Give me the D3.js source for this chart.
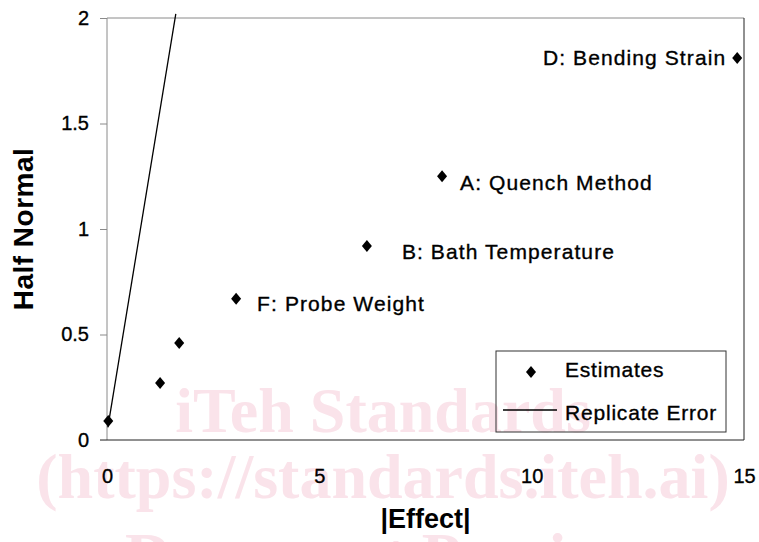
<!DOCTYPE html>
<html>
<head>
<meta charset="utf-8">
<script src="https://cdn.jsdelivr.net/npm/d3@7"></script>
<style>
  body { margin: 0; background: #fff; }
  text { font-family: "Liberation Sans", Arial, sans-serif; }
  .ink { stroke: #000; stroke-width: 0.35px; }
</style>
</head>
<body>
<div id="chart"></div>
<script>
// half normal plot of effects
const effects = [0.03, 1.25, 1.7, 3.04, 6.12, 7.89, 14.84];
const halfNormal = [0.09, 0.27, 0.46, 0.67, 0.92, 1.25, 1.81];
const labels = ["", "", "", "F: Probe Weight", "B: Bath Temperature", "A: Quench Method", "D: Bending Strain"];
const replicateX = [0.02, 1.62];
const replicateY = [0.06, 2.02];
const xTicks = [0, 5, 10, 15];
const yTicks = [0, 0.5, 1, 1.5, 2];
const watermark = ["iTeh Standards", "(https://standards.iteh.ai)", "Document Preview"];

(function () {
  const width = 759, height = 542;
  const left = 107, right = 744, top = 18, bottom = 440;

  const svg = d3.select("#chart")
    .append("svg")
    .attr("width", width)
    .attr("height", height);

  const x = d3.scaleLinear().domain([0, 15]).range([left, right]);
  const y = d3.scaleLinear().domain([0, 2]).range([bottom, top]);

  // watermark sits behind everything
  const wmY = [432, 498, 577];
  svg.append("g")
    .selectAll("text")
    .data(watermark)
    .enter()
    .append("text")
    .attr("x", 383)
    .attr("y", (d, i) => wmY[i])
    .attr("text-anchor", "middle")
    .style("font-family", "'Liberation Serif', 'Times New Roman', serif")
    .style("font-weight", "bold")
    .style("font-size", "64px")
    .attr("fill", "#fae3ea")
    .text(d => d);

  // plot frame
  svg.append("line").attr("x1", left).attr("x2", right).attr("y1", top).attr("y2", top)
    .attr("stroke", "#8a8a8a");
  svg.append("line").attr("x1", left).attr("x2", left).attr("y1", top).attr("y2", bottom)
    .attr("stroke", "#8a8a8a");
  svg.append("line").attr("x1", right).attr("x2", right).attr("y1", top).attr("y2", bottom)
    .attr("stroke", "#222");
  svg.append("line").attr("x1", left - 7).attr("x2", right).attr("y1", bottom).attr("y2", bottom)
    .attr("stroke", "#222");

  // y axis
  const yAxis = svg.append("g")
    .attr("transform", `translate(${left},0)`)
    .call(d3.axisLeft(y).tickValues(yTicks).tickSize(7).tickPadding(11).tickFormat(d3.format("")));
  yAxis.select(".domain").remove();
  yAxis.selectAll(".tick line").attr("stroke", "#8a8a8a");
  yAxis.selectAll(".tick text")
    .attr("class", "ink")
    .style("font-size", "20px")
    .attr("fill", "#000");

  // x axis labels (no tick marks)
  const xAxis = svg.append("g")
    .attr("transform", `translate(0,${bottom})`)
    .call(d3.axisBottom(x).tickValues(xTicks).tickSize(0).tickPadding(29).tickFormat(d3.format("d")));
  xAxis.select(".domain").remove();
  xAxis.selectAll(".tick text")
    .attr("class", "ink")
    .style("font-size", "20px")
    .attr("fill", "#000");

  // axis titles
  svg.append("text")
    .attr("transform", `translate(33,${(top + bottom) / 2}) rotate(-90)`)
    .attr("text-anchor", "middle")
    .style("font-weight", "bold")
    .style("font-size", "28px")
    .style("letter-spacing", "0.5px")
    .text("Half Normal");

  svg.append("text")
    .attr("x", (left + right) / 2)
    .attr("y", 528)
    .attr("text-anchor", "middle")
    .style("font-weight", "bold")
    .style("font-size", "27px")
    .text("|Effect|");

  // replicate error line
  const line = d3.line().x(d => x(d[0])).y(d => y(d[1]));
  svg.append("path")
    .datum(d3.zip(replicateX, replicateY))
    .attr("d", line)
    .attr("fill", "none")
    .attr("stroke", "#000")
    .attr("stroke-width", 1.3);

  const diamond = "M0,-6L5,0L0,6L-5,0Z";
  const pts = d3.range(effects.length).map(i => ({ x: effects[i], y: halfNormal[i], label: labels[i] }));

  svg.append("g")
    .selectAll("path")
    .data(pts)
    .enter()
    .append("path")
    .attr("d", diamond)
    .attr("transform", d => `translate(${x(d.x)},${y(d.y)})`)
    .attr("fill", "#000");

  // label offsets relative to each marker
  const offs = {
    "F: Probe Weight": [21, 12, "start"],
    "B: Bath Temperature": [35, 13, "start"],
    "A: Quench Method": [18, 14, "start"],
    "D: Bending Strain": [-11, 7, "end"]
  };
  svg.append("g")
    .selectAll("text")
    .data(pts.filter(d => d.label))
    .enter()
    .append("text")
    .attr("class", "ink")
    .attr("x", d => x(d.x) + offs[d.label][0])
    .attr("y", d => y(d.y) + offs[d.label][1])
    .attr("text-anchor", d => offs[d.label][2])
    .style("font-size", "21px")
    .style("letter-spacing", "1.1px")
    .text(d => d.label);

  // legend
  const lg = svg.append("g");
  lg.append("rect")
    .attr("x", 496).attr("y", 351).attr("width", 230).attr("height", 81)
    .attr("fill", "none").attr("stroke", "#333");
  lg.append("path").attr("d", diamond).attr("transform", "translate(531,372)").attr("fill", "#000");
  lg.append("text").attr("class", "ink").attr("x", 565).attr("y", 377)
    .style("font-size", "21px").style("letter-spacing", "0.8px").text("Estimates");
  lg.append("line").attr("x1", 503).attr("x2", 557).attr("y1", 410).attr("y2", 410)
    .attr("stroke", "#000").attr("stroke-width", 1.3);
  lg.append("text").attr("class", "ink").attr("x", 565).attr("y", 420)
    .style("font-size", "21px").style("letter-spacing", "0.8px").text("Replicate Error");
})();
</script>
</body>
</html>
